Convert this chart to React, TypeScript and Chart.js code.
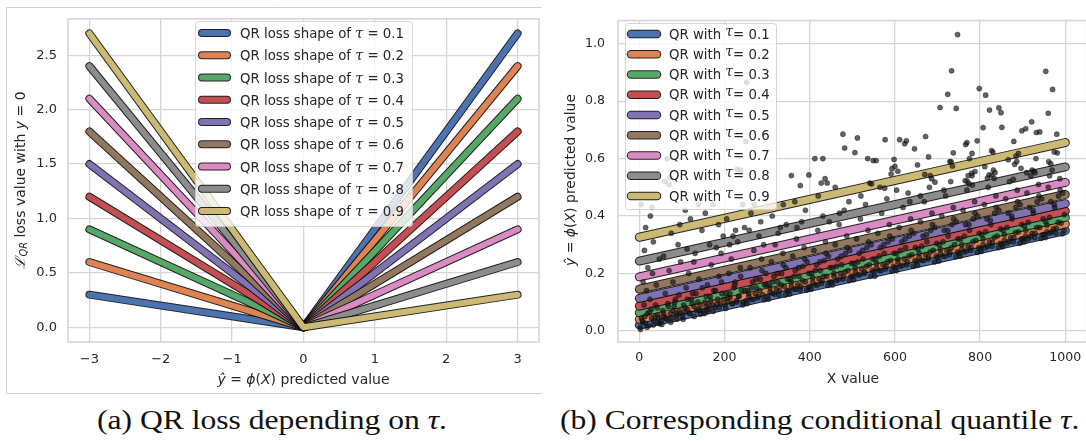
import { useEffect, useRef } from 'react';
import { Chart, registerables } from 'chart.js';

Chart.register(...registerables);

// ---------- shared ----------
const tauLevels = ['0.1', '0.2', '0.3', '0.4', '0.5', '0.6', '0.7', '0.8', '0.9'];
const palette = ['#4C72B0', '#DD8452', '#55A868', '#C44E52', '#8172B3', '#937860', '#DA8BC3', '#8C8C8C', '#CCB974'];

// ---------- panel (a): pinball loss for y = 0 ----------
const residualX = [-3, 0, 3];
const lossAtMinus3 = [0.3, 0.6, 0.9, 1.2, 1.5, 1.8, 2.1, 2.4, 2.7];
const lossAtZero = [0, 0, 0, 0, 0, 0, 0, 0, 0];
const lossAtPlus3 = [2.7, 2.4, 2.1, 1.8, 1.5, 1.2, 0.9, 0.6, 0.3];
const lossXTicks = [-3, -2, -1, 0, 1, 2, 3];
const lossYTicks = [0, 0.5, 1, 1.5, 2, 2.5];

// ---------- panel (b): fitted quantile lines and observations ----------
const fitX = [0, 1000];
const fitStart = [0.020, 0.040, 0.063, 0.086, 0.113, 0.145, 0.188, 0.243, 0.326];
const fitEnd = [0.349, 0.372, 0.395, 0.417, 0.443, 0.475, 0.517, 0.571, 0.656];
const quantXTicks = [0, 200, 400, 600, 800, 1000];
const quantYTicks = [0, 0.2, 0.4, 0.6, 0.8, 1.0];

const observations: [number, number][] = [
  // 0 – 50
  [2, 0.012], [5, 0.045], [8, 0.03], [11, 0.09], [14, 0.026], [17, 0.14], [19, 0.06], [22, 0.018], [25, 0.11], [28, 0.075],
  [31, 0.2], [34, 0.035], [37, 0.05], [40, 0.16], [44, 0.028], [47, 0.25],
  [4, 0.44], [12, 0.28], [26, 0.4], [30, 0.43], [20, 0.22], [9, 0.17], [15, 0.36], [33, 0.31], [42, 0.08], [46, 0.045],
  [3, 0.005], [7, 0.035], [13, 0.05], [18, 0.012], [24, 0.065], [29, 0.045], [33, 0.02], [38, 0.09], [43, 0.055], [48, 0.025],
  // 50 – 100
  [52, 0.035], [55, 0.07], [58, 0.05], [61, 0.13], [64, 0.04], [67, 0.095], [70, 0.21], [73, 0.06], [76, 0.045], [79, 0.17],
  [82, 0.085], [85, 0.11], [88, 0.055], [91, 0.3], [94, 0.07], [97, 0.24],
  [60, 0.52], [75, 0.34], [95, 0.37], [65, 0.6], [72, 0.534], [70, 0.51], [57, 0.26], [86, 0.062],
  [53, 0.022], [57, 0.06], [63, 0.045], [68, 0.085], [74, 0.03], [79, 0.07], [83, 0.1], [88, 0.04], [93, 0.125], [98, 0.06],
  // 100 – 150
  [101, 0.05], [104, 0.09], [107, 0.065], [110, 0.15], [113, 0.075], [116, 0.2], [119, 0.062], [122, 0.11], [125, 0.13], [128, 0.085],
  [131, 0.27], [134, 0.07], [137, 0.1], [140, 0.18], [144, 0.058], [147, 0.35],
  [108, 0.42], [120, 0.39], [139, 0.44], [112, 0.285], [128, 0.24], [142, 0.072],
  [103, 0.04], [107, 0.08], [113, 0.11], [118, 0.06], [124, 0.095], [129, 0.05], [133, 0.13], [138, 0.075], [143, 0.09], [148, 0.15],
  // 150 – 200
  [151, 0.07], [154, 0.1], [157, 0.085], [160, 0.16], [163, 0.075], [166, 0.12], [169, 0.23], [172, 0.09], [175, 0.14], [178, 0.082],
  [181, 0.29], [184, 0.11], [187, 0.19], [190, 0.095], [194, 0.13], [197, 0.33],
  [155, 0.41], [173, 0.44], [186, 0.37], [165, 0.3], [192, 0.27], [160, 0.068],
  [153, 0.06], [157, 0.12], [163, 0.09], [168, 0.105], [174, 0.068], [179, 0.14], [183, 0.095], [188, 0.08], [193, 0.17], [198, 0.11],
  // 200 – 250
  [201, 0.09], [204, 0.13], [207, 0.1], [210, 0.2], [213, 0.115], [216, 0.25], [219, 0.095], [222, 0.15], [225, 0.17], [228, 0.105],
  [231, 0.31], [234, 0.12], [237, 0.22], [240, 0.14], [244, 0.1], [247, 0.36],
  [205, 0.39], [238, 0.56], [226, 0.35], [243, 0.44], [230, 0.563], [212, 0.3], [220, 0.33],
  [203, 0.078], [207, 0.115], [213, 0.13], [218, 0.095], [224, 0.16], [229, 0.1], [233, 0.12], [238, 0.19], [243, 0.09], [248, 0.14],
  // 250 – 300
  [251, 0.105], [254, 0.14], [257, 0.12], [260, 0.22], [263, 0.11], [266, 0.17], [269, 0.28], [272, 0.13], [275, 0.15], [278, 0.115],
  [281, 0.33], [284, 0.18], [287, 0.25], [290, 0.125], [294, 0.16], [297, 0.2],
  [252, 0.866], [250, 0.66], [262, 0.41], [285, 0.38], [270, 0.44], [292, 0.3], [258, 0.35],
  [253, 0.095], [257, 0.13], [263, 0.15], [268, 0.11], [274, 0.18], [279, 0.12], [283, 0.14], [288, 0.21], [293, 0.108], [298, 0.16],
  // 300 – 350
  [301, 0.12], [304, 0.16], [307, 0.135], [310, 0.24], [313, 0.13], [316, 0.19], [319, 0.3], [322, 0.145], [325, 0.17], [328, 0.125],
  [331, 0.36], [334, 0.2], [337, 0.27], [340, 0.155], [344, 0.22], [347, 0.14],
  [312, 0.4], [338, 0.44], [326, 0.34], [345, 0.37],
  [303, 0.11], [307, 0.15], [313, 0.17], [318, 0.128], [324, 0.2], [329, 0.14], [333, 0.16], [338, 0.23], [343, 0.125], [348, 0.18],
  // 350 – 400
  [351, 0.14], [354, 0.18], [357, 0.155], [360, 0.26], [363, 0.145], [366, 0.21], [369, 0.32], [372, 0.16], [375, 0.19], [378, 0.142],
  [381, 0.38], [384, 0.225], [387, 0.29], [390, 0.17], [394, 0.24], [397, 0.15],
  [357, 0.541], [378, 0.506], [398, 0.543], [365, 0.45], [390, 0.42], [370, 0.36],
  [353, 0.128], [357, 0.17], [363, 0.19], [368, 0.145], [374, 0.22], [379, 0.155], [383, 0.175], [388, 0.25], [393, 0.142], [398, 0.2],
  // 400 – 450
  [401, 0.155], [404, 0.2], [407, 0.17], [410, 0.28], [413, 0.16], [416, 0.23], [419, 0.35], [422, 0.18], [425, 0.21], [428, 0.165],
  [431, 0.4], [434, 0.245], [437, 0.31], [440, 0.19], [444, 0.26], [447, 0.17],
  [412, 0.6], [431, 0.6], [436, 0.53], [441, 0.515], [427, 0.515], [420, 0.47], [446, 0.38],
  [403, 0.145], [407, 0.185], [413, 0.21], [418, 0.16], [424, 0.24], [429, 0.175], [433, 0.19], [438, 0.27], [443, 0.158], [448, 0.22],
  // 450 – 500
  [451, 0.17], [454, 0.22], [457, 0.19], [460, 0.3], [463, 0.175], [466, 0.25], [469, 0.37], [472, 0.2], [475, 0.23], [478, 0.18],
  [481, 0.42], [484, 0.27], [487, 0.33], [490, 0.21], [494, 0.28], [497, 0.19],
  [478, 0.685], [482, 0.637], [460, 0.5], [492, 0.45], [470, 0.41],
  [453, 0.16], [457, 0.2], [463, 0.225], [468, 0.18], [474, 0.26], [479, 0.19], [483, 0.205], [488, 0.29], [493, 0.175], [498, 0.235],
  // 500 – 550
  [501, 0.19], [504, 0.235], [507, 0.205], [510, 0.32], [513, 0.195], [516, 0.27], [519, 0.39], [522, 0.215], [525, 0.25], [528, 0.2],
  [531, 0.44], [534, 0.29], [537, 0.35], [540, 0.23], [544, 0.3], [547, 0.21],
  [512, 0.672], [506, 0.621], [536, 0.6], [541, 0.515], [545, 0.512], [549, 0.593], [520, 0.47],
  [503, 0.178], [507, 0.22], [513, 0.24], [518, 0.195], [524, 0.28], [529, 0.205], [533, 0.225], [538, 0.31], [543, 0.19], [548, 0.25],
  // 550 – 600
  [551, 0.205], [554, 0.25], [557, 0.22], [560, 0.34], [563, 0.21], [566, 0.29], [569, 0.41], [572, 0.23], [575, 0.27], [578, 0.215],
  [581, 0.46], [584, 0.31], [587, 0.37], [590, 0.245], [594, 0.32], [597, 0.225],
  [556, 0.593], [577, 0.666], [576, 0.497], [593, 0.565], [591, 0.546], [600, 0.573], [598, 0.597], [565, 0.5],
  [553, 0.19], [557, 0.235], [563, 0.26], [568, 0.21], [574, 0.3], [579, 0.225], [583, 0.24], [588, 0.33], [593, 0.208], [598, 0.27],
  // 600 – 650
  [601, 0.22], [604, 0.27], [607, 0.24], [610, 0.36], [613, 0.225], [616, 0.31], [619, 0.43], [622, 0.25], [625, 0.29], [628, 0.23],
  [631, 0.48], [634, 0.33], [637, 0.39], [640, 0.265], [644, 0.34], [647, 0.245],
  [611, 0.666], [623, 0.652], [627, 0.662], [646, 0.634], [607, 0.556], [604, 0.49], [653, 0.578], [635, 0.45],
  [603, 0.21], [607, 0.25], [613, 0.28], [618, 0.228], [624, 0.32], [629, 0.24], [633, 0.26], [638, 0.35], [643, 0.225], [648, 0.29],
  // 650 – 700
  [651, 0.24], [654, 0.285], [657, 0.255], [660, 0.38], [663, 0.245], [666, 0.33], [669, 0.45], [672, 0.265], [675, 0.31], [678, 0.25],
  [681, 0.5], [684, 0.35], [687, 0.41], [690, 0.28], [694, 0.36], [697, 0.26],
  [672, 0.677], [679, 0.606], [670, 0.545], [683, 0.541], [686, 0.53], [694, 0.518], [660, 0.47],
  [653, 0.228], [657, 0.27], [663, 0.295], [668, 0.245], [674, 0.335], [679, 0.258], [683, 0.275], [688, 0.37], [693, 0.24], [698, 0.305],
  // 700 – 750
  [701, 0.255], [704, 0.3], [707, 0.27], [710, 0.4], [713, 0.26], [716, 0.35], [719, 0.47], [722, 0.28], [725, 0.33], [728, 0.265],
  [731, 0.52], [734, 0.37], [737, 0.43], [740, 0.3], [744, 0.38], [747, 0.275],
  [747, 1.032], [733, 0.906], [724, 0.824], [744, 0.775], [706, 0.778], [737, 0.62], [729, 0.59], [732, 0.589], [735, 0.574], [715, 0.49],
  [703, 0.243], [707, 0.285], [713, 0.31], [718, 0.26], [724, 0.35], [729, 0.275], [733, 0.29], [738, 0.39], [743, 0.258], [748, 0.32],
  // 750 – 800
  [751, 0.27], [754, 0.32], [757, 0.285], [760, 0.42], [763, 0.275], [766, 0.37], [769, 0.49], [772, 0.295], [775, 0.35], [778, 0.28],
  [781, 0.54], [784, 0.39], [787, 0.45], [790, 0.315], [794, 0.4], [797, 0.29],
  [769, 0.656], [766, 0.649], [793, 0.662], [781, 0.618], [775, 0.6], [788, 0.555], [780, 0.549], [772, 0.541], [765, 0.523],
  [770, 0.521], [774, 0.512], [782, 0.508],
  [753, 0.26], [757, 0.3], [763, 0.33], [768, 0.278], [774, 0.37], [779, 0.29], [783, 0.31], [788, 0.41], [793, 0.273], [798, 0.34],
  // 800 – 850
  [801, 0.285], [804, 0.335], [807, 0.3], [810, 0.44], [813, 0.29], [816, 0.39], [819, 0.5], [822, 0.31], [825, 0.37], [828, 0.295],
  [831, 0.56], [834, 0.41], [837, 0.47], [840, 0.33], [844, 0.42], [847, 0.305],
  [798, 0.844], [813, 0.821], [822, 0.769], [844, 0.777], [849, 0.76], [851, 0.709], [807, 0.708], [827, 0.628], [830, 0.622],
  [811, 0.572], [817, 0.532], [821, 0.543], [827, 0.542], [833, 0.531], [835, 0.551],
  [803, 0.277], [807, 0.32], [813, 0.345], [818, 0.295], [824, 0.385], [829, 0.308], [833, 0.325], [838, 0.43], [843, 0.29], [848, 0.355],
  // 850 – 900
  [851, 0.3], [854, 0.35], [857, 0.315], [860, 0.46], [863, 0.305], [866, 0.41], [869, 0.52], [872, 0.325], [875, 0.39], [878, 0.31],
  [881, 0.58], [884, 0.43], [887, 0.49], [890, 0.345], [894, 0.44], [897, 0.32],
  [866, 0.596], [884, 0.609], [890, 0.618], [886, 0.59], [896, 0.566], [879, 0.66], [878, 0.528], [898, 0.697],
  [853, 0.293], [857, 0.335], [863, 0.36], [868, 0.312], [874, 0.4], [879, 0.325], [883, 0.342], [888, 0.45], [893, 0.305], [898, 0.37],
  // 900 – 950
  [901, 0.32], [904, 0.365], [907, 0.33], [910, 0.48], [913, 0.32], [916, 0.43], [919, 0.54], [922, 0.34], [925, 0.41], [928, 0.325],
  [931, 0.6], [934, 0.45], [937, 0.51], [940, 0.36], [944, 0.46], [947, 0.335],
  [907, 0.704], [921, 0.728], [932, 0.691], [940, 0.693], [909, 0.551], [922, 0.56], [926, 0.556], [929, 0.551],
  [903, 0.31], [907, 0.35], [913, 0.378], [918, 0.328], [924, 0.42], [929, 0.34], [933, 0.36], [938, 0.47], [943, 0.322], [948, 0.39],
  // 950 – 1000
  [951, 0.335], [954, 0.38], [957, 0.345], [960, 0.5], [963, 0.34], [966, 0.45], [969, 0.56], [972, 0.355], [975, 0.43], [978, 0.34],
  [981, 0.62], [984, 0.47], [987, 0.53], [990, 0.375], [994, 0.48], [997, 0.35],
  [954, 0.904], [970, 0.841], [960, 0.758], [980, 0.685], [974, 0.623], [961, 0.589], [966, 0.582], [963, 0.54],
  [953, 0.325], [957, 0.368], [963, 0.395], [968, 0.345], [974, 0.44], [979, 0.358], [983, 0.378], [988, 0.49], [993, 0.338], [998, 0.405],
];

// ---------- text helpers ----------
const TEXT = '#262626';
const SANS = '"DejaVu Sans"';
const GRID = '#d6d6d6';
const EDGE = 'rgba(10,10,10,0.9)';

interface Run { text: string; italic?: boolean; scale?: number; dy?: number; family?: string }

function runFont(r: Run, size: number) {
  return `${r.italic ? 'italic ' : ''}${(size * (r.scale ?? 1)).toFixed(2)}px ${r.family ?? SANS}`;
}

function runsWidth(ctx: CanvasRenderingContext2D, runs: Run[], size: number) {
  let w = 0;
  for (const r of runs) {
    ctx.font = runFont(r, size);
    w += ctx.measureText(r.text).width;
  }
  return w;
}

function drawRuns(ctx: CanvasRenderingContext2D, runs: Run[], x: number, y: number, size: number) {
  let cx = x;
  for (const r of runs) {
    ctx.font = runFont(r, size);
    ctx.fillText(r.text, cx, y + (r.dy ?? 0));
    cx += ctx.measureText(r.text).width;
  }
}

function drawTitle(ctx: CanvasRenderingContext2D, runs: Run[], cx: number, cy: number, size: number, vertical: boolean) {
  ctx.save();
  ctx.fillStyle = TEXT;
  ctx.textBaseline = 'middle';
  ctx.textAlign = 'left';
  ctx.translate(cx, cy);
  if (vertical) ctx.rotate(-Math.PI / 2);
  const w = runsWidth(ctx, runs, size);
  drawRuns(ctx, runs, -w / 2, 0, size);
  ctx.restore();
}

const predictedRuns: Run[] = [
  { text: 'ŷ', italic: true },
  { text: ' = ' },
  { text: 'ϕ', italic: true },
  { text: '(' },
  { text: 'X', italic: true },
  { text: ') predicted value' },
];

const lossRuns: Run[] = [
  { text: 'ℒ', italic: true, family: '"DejaVu Serif"' },
  { text: 'QR', italic: true, scale: 0.7, dy: 3 },
  { text: ' loss value with ' },
  { text: 'y', italic: true },
  { text: ' = 0' },
];

interface LegendSpec {
  box: [number, number, number, number];
  firstRow: number;
  rowStep: number;
  handle: [number, number];
  handleWidth: number;
  textX: number;
  fontSize: number;
  baseline: number;
  label: (tau: string) => Run[];
}

function drawLegend(ctx: CanvasRenderingContext2D, spec: LegendSpec) {
  const [bx, by, bw, bh] = spec.box;
  ctx.save();
  ctx.beginPath();
  ctx.roundRect(bx + 0.5, by + 0.5, bw, bh, 3);
  ctx.fillStyle = 'rgba(255,255,255,0.8)';
  ctx.fill();
  ctx.strokeStyle = 'rgba(204,204,204,0.8)';
  ctx.lineWidth = 1;
  ctx.stroke();
  ctx.lineCap = 'round';
  tauLevels.forEach((tau, i) => {
    const ry = spec.firstRow + i * spec.rowStep;
    ctx.beginPath();
    ctx.moveTo(spec.handle[0], ry);
    ctx.lineTo(spec.handle[1], ry);
    ctx.strokeStyle = EDGE;
    ctx.lineWidth = spec.handleWidth + 2;
    ctx.stroke();
    ctx.strokeStyle = palette[i];
    ctx.lineWidth = spec.handleWidth;
    ctx.stroke();
    ctx.fillStyle = TEXT;
    ctx.textBaseline = 'alphabetic';
    drawRuns(ctx, spec.label(tau), spec.textX, ry + spec.baseline, spec.fontSize);
  });
  ctx.restore();
}

function spinePlugin(id: string) {
  return {
    id,
    afterDatasetsDraw(chart: Chart) {
      const { ctx, chartArea: a } = chart;
      ctx.save();
      ctx.strokeStyle = GRID;
      ctx.lineWidth = 1.6;
      ctx.strokeRect(a.left, a.top, a.right - a.left, a.bottom - a.top);
      ctx.restore();
    },
  };
}

function outlinedLines(points: { x: number; y: number }[][], width: number) {
  const sets: any[] = [];
  points.forEach((data, i) => {
    const common = {
      data,
      showLine: true,
      pointRadius: 0,
      pointHoverRadius: 0,
      borderCapStyle: 'round',
      borderJoinStyle: 'round',
      fill: false,
      tension: 0,
    };
    sets.push({ ...common, borderColor: EDGE, borderWidth: width + 2, order: 2 * (points.length - 1 - i) + 1 });
    sets.push({ ...common, borderColor: palette[i], borderWidth: width, order: 2 * (points.length - 1 - i) });
  });
  return sets;
}

function axisScale(min: number, max: number, ticks: number[], fmt: (v: number) => string, size: number, fixed: (s: any) => void, padding: number) {
  return {
    type: 'linear',
    min,
    max,
    afterBuildTicks: (s: any) => {
      s.ticks = ticks.map((v) => ({ value: v }));
    },
    afterFit: fixed,
    grid: { color: GRID, lineWidth: 1.3, drawTicks: false },
    border: { display: false },
    ticks: {
      color: TEXT,
      padding,
      font: { family: 'DejaVu Sans', size },
      callback: (v: any) => fmt(Number(v)),
    },
  };
}

const minusFmt = (v: number) => (v < 0 ? '\u2212' + Math.abs(v) : String(v));

function LossPanel() {
  const ref = useRef<HTMLCanvasElement>(null);
  useEffect(() => {
    const canvas = ref.current!;
    const lines = tauLevels.map((_, i) => [
      { x: residualX[0], y: lossAtMinus3[i] },
      { x: residualX[1], y: lossAtZero[i] },
      { x: residualX[2], y: lossAtPlus3[i] },
    ]);
    const legend: LegendSpec = {
      box: [195, 21, 217, 205],
      firstRow: 33,
      rowStep: 22.25,
      handle: [202, 227],
      handleWidth: 6,
      textX: 240,
      fontSize: 13.3,
      baseline: 5,
      label: (tau) => [
        { text: 'QR loss shape of ' },
        { text: 'τ', italic: true, family: '"DejaVu Serif"', scale: 1.08 },
        { text: ' = ' + tau },
      ],
    };
    const chart = new Chart(canvas, {
      type: 'scatter',
      data: { datasets: outlinedLines(lines, 6) },
      options: {
        animation: false,
        responsive: false,
        events: [],
        layout: { padding: { top: 13, right: 6, left: 0, bottom: 0 } },
        plugins: { legend: { display: false }, tooltip: { enabled: false } },
        scales: {
          x: axisScale(-3.3, 3.3, lossXTicks, minusFmt, 13, (s) => { s.height = 58; }, 10),
          y: axisScale(-0.135, 2.835, lossYTicks, (v) => v.toFixed(1), 13, (s) => { s.width = 68; }, 11),
        },
      } as any,
      plugins: [
        {
          id: 'panelFrame',
          beforeDraw(c: Chart) {
            const ctx = c.ctx;
            ctx.save();
            ctx.strokeStyle = '#d2d2d2';
            ctx.lineWidth = 1;
            ctx.beginPath();
            ctx.moveTo(542, 7.5);
            ctx.lineTo(6.5, 7.5);
            ctx.lineTo(6.5, 393.5);
            ctx.lineTo(542, 393.5);
            ctx.stroke();
            ctx.restore();
          },
        },
        spinePlugin('lossSpines'),
        {
          id: 'lossDecor',
          afterDraw(c: Chart) {
            const ctx = c.ctx;
            drawTitle(ctx, predictedRuns, 303.5, 380, 14, false);
            drawTitle(ctx, lossRuns, 21.5, 180, 14, true);
            drawLegend(ctx, legend);
          },
        },
      ],
    });
    return () => chart.destroy();
  }, []);
  return <canvas ref={ref} width={545} height={400} style={{ position: 'absolute', left: 0, top: 0 }} />;
}

function QuantilePanel() {
  const ref = useRef<HTMLCanvasElement>(null);
  useEffect(() => {
    const canvas = ref.current!;
    const lines = tauLevels.map((_, i) => [
      { x: fitX[0], y: fitStart[i] },
      { x: fitX[1], y: fitEnd[i] },
    ]);
    const legend: LegendSpec = {
      box: [80, 23, 151, 186],
      firstRow: 34,
      rowStep: 20.25,
      handle: [86, 112],
      handleWidth: 6.5,
      textX: 124,
      fontSize: 13.3,
      baseline: 4.5,
      label: (tau) => [
        { text: 'QR with ' },
        { text: 'τ', italic: true, family: '"DejaVu Serif"', scale: 1.05, dy: -3 },
        { text: '= ' + tau },
      ],
    };
    const chart = new Chart(canvas, {
      type: 'scatter',
      data: {
        datasets: [
          {
            data: observations.map(([x, y]) => ({ x, y })),
            pointRadius: 2.6,
            pointHoverRadius: 2.6,
            pointBackgroundColor: 'rgba(25,25,25,0.68)',
            pointBorderColor: 'rgba(0,0,0,0.6)',
            pointBorderWidth: 0.5,
            order: -1,
          },
          ...outlinedLines(lines, 7),
        ],
      },
      options: {
        animation: false,
        responsive: false,
        events: [],
        layout: { padding: { top: 16, right: 2, left: 0, bottom: 0 } },
        plugins: { legend: { display: false }, tooltip: { enabled: false } },
        scales: {
          x: axisScale(-50, 1050, quantXTicks, (v) => String(v), 12.6, (s) => { s.height = 58; }, 8.5),
          y: axisScale(-0.039, 1.081, quantYTicks, (v) => v.toFixed(1), 12.6, (s) => { s.width = 73; }, 13),
        },
      } as any,
      plugins: [
        spinePlugin('quantSpines'),
        {
          id: 'quantDecor',
          afterDraw(c: Chart) {
            const ctx = c.ctx;
            drawTitle(ctx, [{ text: 'X value' }], 308, 379, 14, false);
            drawTitle(ctx, predictedRuns, 26, 180, 14, true);
            drawLegend(ctx, legend);
          },
        },
      ],
    });
    return () => chart.destroy();
  }, []);
  return <canvas ref={ref} width={545} height={400} style={{ position: 'absolute', left: 545, top: 0 }} />;
}

const captionStyle: React.CSSProperties = {
  position: 'absolute',
  top: 407,
  fontFamily: '"Liberation Serif", serif',
  fontSize: 27,
  lineHeight: '27px',
  color: '#111',
  whiteSpace: 'nowrap',
  transform: 'scaleX(1.17)',
  transformOrigin: 'left center',
};

export default function App() {
  return (
    <div style={{ position: 'absolute', left: 0, top: 0, width: 1086, height: 441, overflow: 'hidden', background: '#fff' }}>
      <LossPanel />
      <QuantilePanel />
      <div style={{ ...captionStyle, left: 97 }}>
        (a) QR loss depending on <i>τ</i>.
      </div>
      <div style={{ ...captionStyle, left: 560 }}>
        (b) Corresponding conditional quantile <i>τ</i>.
      </div>
    </div>
  );
}
